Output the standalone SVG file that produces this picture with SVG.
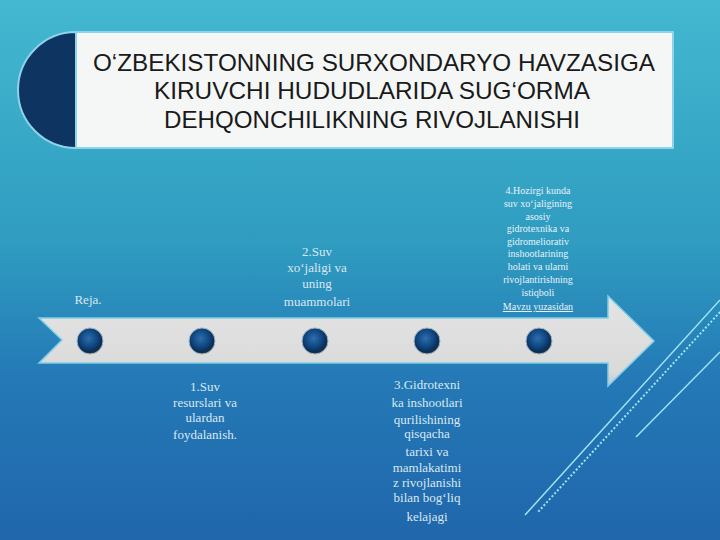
<svg xmlns="http://www.w3.org/2000/svg" width="720" height="540" viewBox="0 0 720 540">
<defs>
<linearGradient id="bg" x1="0" y1="0" x2="0" y2="1">
<stop offset="0" stop-color="#43b8d0"/>
<stop offset="0.45" stop-color="#2f9cc0"/>
<stop offset="0.7" stop-color="#2479b6"/>
<stop offset="1" stop-color="#2066ab"/>
</linearGradient>
<linearGradient id="band" x1="0" y1="0" x2="0" y2="1">
<stop offset="0" stop-color="#e4e4e4"/>
<stop offset="0.85" stop-color="#dadada"/>
<stop offset="1" stop-color="#bfc6cc"/>
</linearGradient>
<radialGradient id="dot" cx="0.45" cy="0.4" r="0.6">
<stop offset="0" stop-color="#2d6fae"/>
<stop offset="0.55" stop-color="#0f4680"/>
<stop offset="0.85" stop-color="#0b2d52"/>
<stop offset="1" stop-color="#2a3440"/>
</radialGradient>
<style>
.title{font-family:"Liberation Sans","DejaVu Sans",sans-serif;font-size:24px;fill:#1a1a1a;text-anchor:middle}
.lbl{font-family:"Liberation Serif","DejaVu Serif",serif;font-size:13px;fill:#d9e8f2;text-anchor:middle}
.lbl4{font-family:"Liberation Serif","DejaVu Serif",serif;font-size:10px;fill:#e6f2fa;text-anchor:middle}
.dot{fill:url(#dot);stroke:#9fb4c4;stroke-width:1}
.deco{stroke:#9fe4f2;fill:none}
</style>
</defs>
<rect width="720" height="540" fill="url(#bg)"/>
<g id="decor">
<line class="deco" x1="720" y1="300" x2="525" y2="515" stroke-width="1.5"/>
<line class="deco" x1="720" y1="312" x2="538" y2="512" stroke-width="2" stroke-dasharray="2 2"/>
<line class="deco" x1="720" y1="352" x2="636" y2="437" stroke-width="1.5"/>
</g>
<g id="title">
<path d="M76 32 A58 58 0 0 0 76 148 Z" fill="#0e3562" stroke="#8fd3ea" stroke-width="2"/>
<rect x="76" y="32" width="597" height="116" fill="#f5f7f7" stroke="#8fd3ea" stroke-width="2"/>
<text class="title" x="374" y="71" textLength="562" lengthAdjust="spacingAndGlyphs">O‘ZBEKISTONNING SURXONDARYO HAVZASIGA</text>
<text class="title" x="372" y="99" textLength="436" lengthAdjust="spacingAndGlyphs">KIRUVCHI HUDUDLARIDA SUG‘ORMA</text>
<text class="title" x="372" y="128" textLength="416" lengthAdjust="spacingAndGlyphs">DEHQONCHILIKNING RIVOJLANISHI</text>
</g>
<g id="connectors">
<path d="M39 318 L608 318 L608 296 L654 341 L608 386 L608 363 L39 363 L62 340 Z" fill="url(#band)" stroke="#7fcde6" stroke-width="1.5"/>
</g>
<g id="node-reja"><text class="lbl" x="88" y="304">Reja.</text></g>
<g id="node-1">
<circle class="dot" cx="90" cy="341" r="13"/>
</g>
<g id="node-2">
<circle class="dot" cx="202" cy="341" r="13"/>
<text class="lbl" x="205" y="391">1.Suv</text>
<text class="lbl" x="205" y="407">resurslari va</text>
<text class="lbl" x="205" y="422">ulardan</text>
<text class="lbl" x="205" y="439">foydalanish.</text>
</g>
<g id="node-3">
<circle class="dot" cx="315" cy="341" r="13"/>
<text class="lbl" x="317" y="256">2.Suv</text>
<text class="lbl" x="317" y="272">xo‘jaligi va</text>
<text class="lbl" x="317" y="288">uning</text>
<text class="lbl" x="317" y="306">muammolari</text>
</g>
<g id="node-4">
<circle class="dot" cx="427" cy="341" r="13"/>
<text class="lbl" x="427" y="389">3.Gidrotexni</text>
<text class="lbl" x="427" y="407">ka inshootlari</text>
<text class="lbl" x="427" y="424">qurilishining</text>
<text class="lbl" x="427" y="438">qisqacha</text>
<text class="lbl" x="427" y="456">tarixi va</text>
<text class="lbl" x="427" y="472">mamlakatimi</text>
<text class="lbl" x="427" y="487">z rivojlanishi</text>
<text class="lbl" x="427" y="502">bilan bog‘liq</text>
<text class="lbl" x="427" y="521">kelajagi</text>
</g>
<g id="node-5">
<circle class="dot" cx="539" cy="341" r="13"/>
<text class="lbl4" x="538" y="194">4.Hozirgi kunda</text>
<text class="lbl4" x="538" y="207">suv xo‘jaligining</text>
<text class="lbl4" x="538" y="220">asosiy</text>
<text class="lbl4" x="538" y="232">gidrotexnika va</text>
<text class="lbl4" x="538" y="245">gidromeliorativ</text>
<text class="lbl4" x="538" y="257">inshootlarining</text>
<text class="lbl4" x="538" y="270">holati va ularni</text>
<text class="lbl4" x="538" y="283">rivojlantirishning</text>
<text class="lbl4" x="538" y="296">istiqboli</text>
<text class="lbl4" x="538" y="310" text-decoration="underline">Mavzu yuzasidan</text>
</g>
</svg>
